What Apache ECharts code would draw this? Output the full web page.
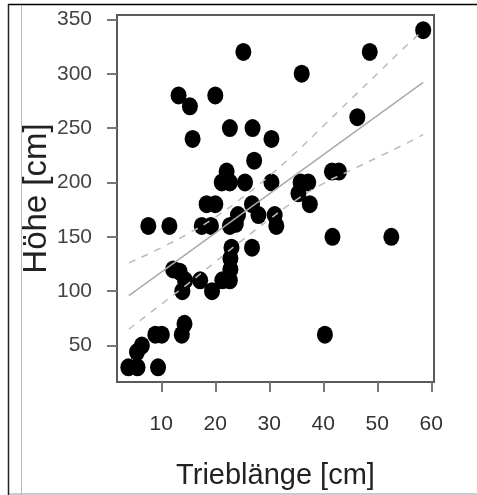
<!DOCTYPE html>
<html>
<head>
<meta charset="utf-8">
<script src="https://cdn.jsdelivr.net/npm/echarts@6/dist/echarts.min.js"></script>
<style>
    html, body { margin: 0; padding: 0; background: #fff; }
    #chart { width: 477px; height: 495px; }
</style>
</head>
<body>
<div id="chart"></div>
<script>
// Trieblänge (x) vs Höhe (y)
const trieblaenge = [
    58.5, 48.6, 25.2, 36.0, 13.2, 20.0, 15.3, 46.3, 22.7, 26.9,
    15.8, 30.4, 27.2, 22.1, 21.2, 22.7, 25.5, 30.4, 35.8, 37.2,
    35.4, 37.5, 41.6, 42.9, 41.7, 52.6, 40.3, 7.6, 11.5, 18.4,
    20.0, 17.5, 19.2, 26.8, 28.0, 31.0, 31.3, 22.7, 24.2, 23.8,
    23.0, 26.8, 22.8, 22.8, 22.7, 21.3, 19.4, 17.2, 12.2, 13.4,
    14.4, 13.9, 14.3, 13.8, 8.9, 10.1, 6.4, 5.5, 3.9, 5.6, 9.4
]
const hoehe = [
    340, 320, 320, 300, 280, 280, 270, 260, 250, 250,
    240, 240, 220, 210, 200, 200, 200, 200, 200, 200,
    190, 180, 210, 210, 150, 150, 60, 160, 160, 180,
    180, 160, 160, 180, 170, 170, 160, 160, 170, 162,
    140, 140, 130, 120, 110, 110, 100, 110, 120, 118,
    110, 100, 70, 60, 60, 60, 50, 44, 30, 30, 30
]

// regression line and confidence band
const fitX = [4, 58.5]
const fitY = [96, 292]
const bandX = [4, 10, 15, 20, 25, 30, 35, 40, 45, 50, 55, 58.5]
const upperY = [126, 140, 153, 168, 186, 206, 228, 252, 276, 300, 324, 340]
const lowerY = [65, 88, 107, 127, 147, 166, 184, 199, 211, 223, 235, 244]

const xTicks = [10, 20, 30, 40, 50, 60]
const yTicks = [50, 100, 150, 200, 250, 300, 350]

const labelFont = "'Liberation Sans Narrow', 'Liberation Sans', Arial, sans-serif"
const titleFont = "'Liberation Sans', Arial, sans-serif"

const chart = echarts.init(document.getElementById('chart'))

const pairs = (xs, ys) => xs.map((x, i) => [x, ys[i]])

chart.setOption({
    animation: false,
    grid: {
        left: 117,
        top: 15,
        right: 43,
        bottom: 111,
        show: true,
        borderColor: '#5a5a5a',
        borderWidth: 2,
    },
    xAxis: {
        type: 'value',
        min: 1.8,
        max: 60.5,
        name: 'Trieblänge [cm]',
        nameLocation: 'middle',
        nameGap: 79,
        nameMoveOverlap: false,
        nameTextStyle: { fontFamily: titleFont, fontSize: 29, color: '#222' },
        axisLine: { show: true, lineStyle: { color: '#5a5a5a', width: 2 } },
        axisTick: { show: true, length: 10, customValues: xTicks, lineStyle: { color: '#777', width: 2 } },
        axisLabel: { customValues: xTicks, margin: 32, fontFamily: labelFont, fontSize: 21, color: '#333' },
        splitLine: { show: false },
    },
    yAxis: {
        type: 'value',
        min: 16.5,
        max: 354,
        name: 'Höhe [cm]',
        nameLocation: 'middle',
        nameGap: 64,
        nameMoveOverlap: false,
        nameTextStyle: { fontFamily: titleFont, fontSize: 33, color: '#222' },
        axisLine: { show: true, lineStyle: { color: '#5a5a5a', width: 2 } },
        axisTick: { show: true, length: 10, customValues: yTicks, lineStyle: { color: '#777', width: 2 } },
        axisLabel: { customValues: yTicks, margin: 25, fontFamily: labelFont, fontSize: 21, color: '#444' },
        splitLine: { show: false },
    },
    graphic: [
        { type: 'line', shape: { x1: 8, y1: 4.5, x2: 477, y2: 4.5 }, style: { stroke: '#000', lineWidth: 1.5 } },
        { type: 'line', shape: { x1: 8.5, y1: 4, x2: 8.5, y2: 495 }, style: { stroke: '#222', lineWidth: 1.5 } },
        { type: 'line', shape: { x1: 21.5, y1: 5, x2: 21.5, y2: 495 }, style: { stroke: '#bbb', lineWidth: 1 } },
        { type: 'line', shape: { x1: 9, y1: 494, x2: 477, y2: 494 }, style: { stroke: '#999', lineWidth: 1 } },
    ],
    series: [
        {
            type: 'scatter',
            symbol: 'path://M0 50A50 50 0 1 0 100 50A50 50 0 1 0 0 50Z',
            symbolSize: [16, 18],
            itemStyle: { color: '#000', opacity: 1 },
            emphasis: { disabled: true },
            data: pairs(trieblaenge, hoehe),
            z: 2,
        },
        {
            type: 'line',
            showSymbol: false,
            lineStyle: { color: '#aaa', width: 1.5 },
            data: pairs(fitX, fitY),
            z: 3,
        },
        {
            type: 'line',
            showSymbol: false,
            smooth: true,
            lineStyle: { color: '#bbb', width: 1.5, type: [7, 7] },
            data: pairs(bandX, upperY),
            z: 3,
        },
        {
            type: 'line',
            showSymbol: false,
            smooth: true,
            lineStyle: { color: '#bbb', width: 1.5, type: [7, 7] },
            data: pairs(bandX, lowerY),
            z: 3,
        },
    ],
})
</script>
</body>
</html>
